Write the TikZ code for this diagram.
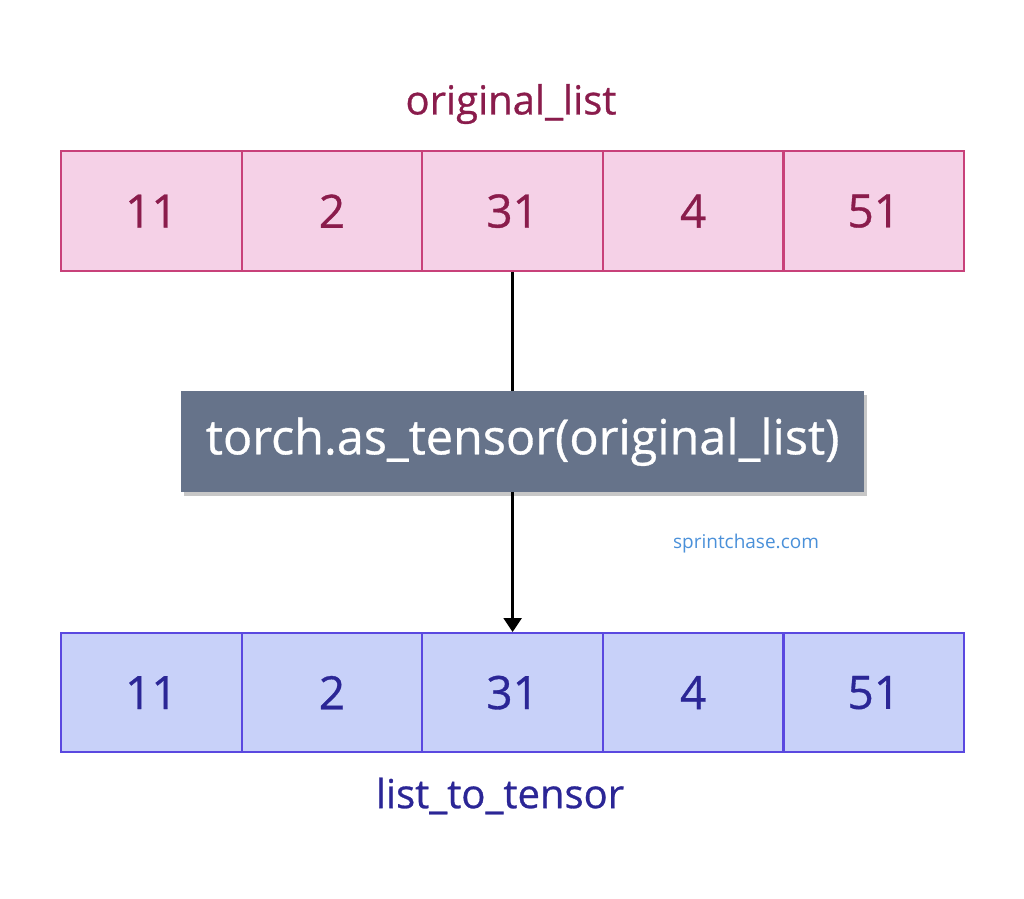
\documentclass[tikz,border=0pt]{standalone}
\usetikzlibrary{arrows.meta}
\usepackage{fontspec}
\setmainfont{Open Sans}
\newfontfamily\med{Open Sans}[FakeBold=0.7]
\definecolor{pfill}{HTML}{F5D1E7}
\definecolor{pline}{HTML}{C8417A}
\definecolor{ptext}{HTML}{8A1C4C}
\definecolor{bfill}{HTML}{C8D1F9}
\definecolor{bline}{HTML}{5A48E0}
\definecolor{btext}{HTML}{2B2696}
\definecolor{mid}{HTML}{66738A}
\definecolor{web}{HTML}{4A90D9}
\begin{document}
\begin{tikzpicture}[x=1pt,y=-1pt,
 pcell/.style={draw=pline,fill=pfill,line width=2.2pt,minimum width=180.6pt,minimum height=120pt,inner sep=0pt,text=ptext,font=\med\fontsize{46}{46}\selectfont,anchor=north west},
 bcell/.style={draw=bline,fill=bfill,line width=2.2pt,minimum width=180.6pt,minimum height=119pt,inner sep=0pt,text=btext,font=\med\fontsize{46}{46}\selectfont,anchor=north west}]
\useasboundingbox (0,0) rectangle (1024,898);
\foreach \v [count=\i from 0] in {11,2,31,4,51}{
 \node[pcell] (p\i) at (60+180.6*\i,150) {\v};
 \node[bcell] (b\i) at (60+180.6*\i,632) {\v};
}
\node[text=ptext,font=\med\fontsize{40}{40}\selectfont] (t1) at (511,104) {original\_list};
\node[text=btext,font=\med\fontsize{40}{40}\selectfont] (t2) at (500,796) {list\_to\_tensor};
\fill[black!22] (184,395) rectangle (867,496);
\node[fill=mid,minimum width=683pt,minimum height=101pt,inner sep=0pt,text=white,font=\med\fontsize{48.5}{48.5}\selectfont,anchor=north west] (m) at (181,391) {torch.as\_tensor(original\_list)};
\draw[line width=2.5pt] (p2.south) -- (p2.south |- m.north);
\draw[line width=2.5pt,-{Triangle[length=14pt,width=18pt]}] (p2.south |- m.south) -- (b2.north);
\node[text=web,font=\fontsize{19}{19}\selectfont] (w) at (746,544) {sprintchase.com};
\end{tikzpicture}
\end{document}
